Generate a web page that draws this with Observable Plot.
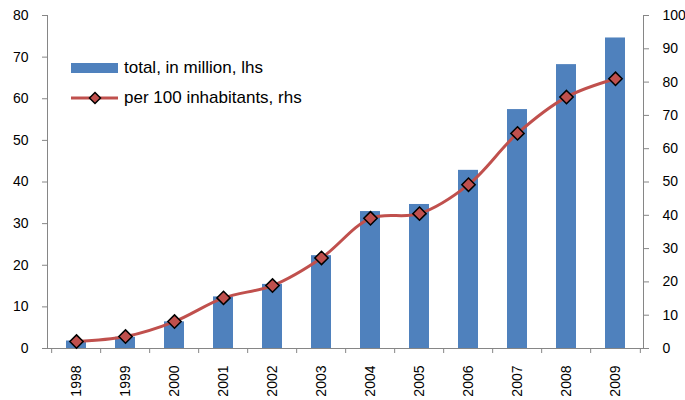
<!DOCTYPE html>
<html><head><meta charset="utf-8">
<script src="https://cdn.jsdelivr.net/npm/d3@7"></script>
<script src="https://cdn.jsdelivr.net/npm/@observablehq/plot@0.6"></script>
<style>
body{margin:0;background:#fff;font-family:"Liberation Sans",Arial,sans-serif;}
#wrap{position:relative;width:685px;height:400px;overflow:hidden;}
.lg{position:absolute;left:71px;height:20px;font-size:17px;color:#000;display:flex;align-items:center;white-space:nowrap;}
.lg .sw{width:47px;margin-right:6px;}
</style></head><body><div id="wrap"></div>
<script>
const years = ["1998","1999","2000","2001","2002","2003","2004","2005","2006","2007","2008","2009"];
const totalMillion = [1.8, 2.7, 6.4, 12.4, 15.4, 22.3, 32.9, 34.6, 42.8, 57.4, 68.2, 74.6];
const per100 = [2.1, 3.6, 8.1, 15.2, 18.9, 27.2, 39.1, 40.5, 49.2, 64.6, 75.5, 81.0];
const leftTicks = [0, 10, 20, 30, 40, 50, 60, 70, 80];
const rightTicks = [0, 10, 20, 30, 40, 50, 60, 70, 80, 90, 100];
const seriesNames = ["total, in million, lhs", "per 100 inhabitants, rhs"];

const W = 685, H = 400, ML = 47, MR = 42, MT = 15, MB = 52;
const PI = 0.6, PO = 0.3;
const step = (W - ML - MR) / (years.length - PI + 2 * PO);
const k = 80 / 100;
const gray = "#868686", blue = "#4F81BD", red = "#C0504D";
const data = years.map((y, i) => ({year: y, total: totalMillion[i], rhs: per100[i]}));

const chart = Plot.plot({
  width: W, height: H,
  marginLeft: ML, marginRight: MR, marginTop: MT, marginBottom: MB,
  style: {fontFamily: "Liberation Sans, Arial, sans-serif", fontSize: "14px", color: "#000", background: "#fff"},
  x: {type: "band", domain: years, paddingInner: PI, paddingOuter: PO, axis: null},
  y: {domain: [0, 80], axis: null},
  marks: [
    Plot.barY(data, {x: "year", y: "total", fill: blue}),
    Plot.frame({anchor: "left", stroke: gray}),
    Plot.frame({anchor: "right", stroke: gray}),
    Plot.frame({anchor: "bottom", stroke: gray}),
    Plot.axisY(leftTicks, {anchor: "left", label: null, tickSize: 5, tickPadding: 14, stroke: gray, fill: "#000", fontSize: 14}),
    Plot.axisY(rightTicks.map(d => d * k), {anchor: "right", label: null, tickSize: 5, tickPadding: 14, stroke: gray, fill: "#000", fontSize: 14, tickFormat: d => String(Math.round(d / k))}),
    Plot.axisX(years, {anchor: "bottom", label: null, tickSize: 5, tickFormat: () => "", dx: -step / 2, stroke: gray}),
    Plot.axisX([years[years.length - 1]], {anchor: "bottom", label: null, tickSize: 5, tickFormat: () => "", dx: step / 2, stroke: gray}),
    Plot.axisX(years, {anchor: "bottom", label: null, tickSize: 0, tickPadding: 17, tickRotate: -90, fill: "#000", fontSize: 14}),
    Plot.line(data, {x: "year", y: d => d.rhs * k, stroke: red, strokeWidth: 3, curve: "catmull-rom"}),
    Plot.dot(data, {x: "year", y: d => d.rhs * k, symbol: "diamond2", r: 6, fill: red, stroke: "#000", strokeWidth: 1.5})
  ]
});
const wrap = document.getElementById("wrap");
wrap.appendChild(chart);

const l1 = document.createElement("div");
l1.className = "lg"; l1.style.top = "58px";
l1.innerHTML = `<div class="sw" style="height:10px;background:${blue}"></div><span></span>`;
l1.querySelector("span").textContent = seriesNames[0];
wrap.appendChild(l1);
const l2 = document.createElement("div");
l2.className = "lg"; l2.style.top = "88px";
l2.innerHTML = `<svg class="sw" width="47" height="16" viewBox="0 0 47 16"><line x1="0" y1="8" x2="47" y2="8" stroke="${red}" stroke-width="3"/><path d="M24,2.5L29.5,8L24,13.5L18.5,8Z" fill="${red}" stroke="#000" stroke-width="1.5"/></svg><span></span>`;
l2.querySelector("span").textContent = seriesNames[1];
wrap.appendChild(l2);
</script>
</body></html>
